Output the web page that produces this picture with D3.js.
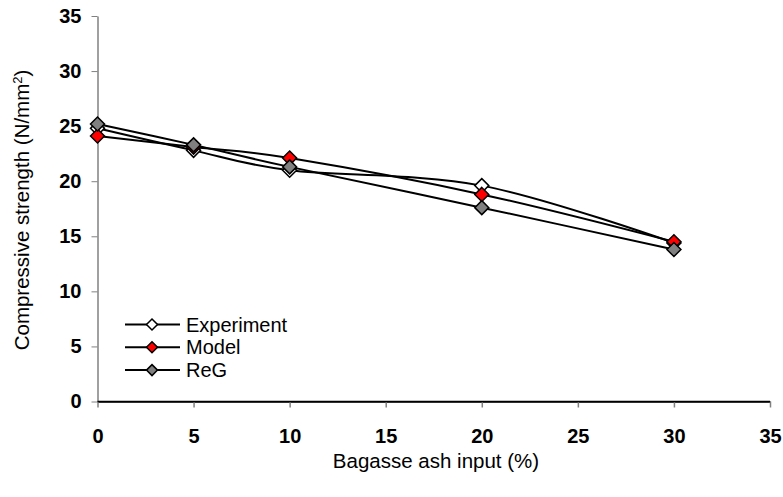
<!DOCTYPE html>
<html>
<head>
<meta charset="utf-8">
<script src="https://cdn.jsdelivr.net/npm/d3@7"></script>
<style>
  body { margin: 0; background: #fff; }
  svg text { font-family: "Liberation Sans", Arial, sans-serif; }
</style>
</head>
<body>
<div id="chart"></div>
<script>
// ash input (%)
const ashInput = [0, 5, 10, 20, 30];
const experiment = [24.8, 22.8, 21.0, 19.6, 14.4];
const model = [24.1, 23.1, 22.1, 18.8, 14.5];
const reg = [25.2, 23.3, 21.3, 17.6, 13.8];
const xTicks = [0, 5, 10, 15, 20, 25, 30, 35];
const yTicks = [0, 5, 10, 15, 20, 25, 30, 35];

const seriesList = [
  { name: 'Experiment', values: experiment, fill: '#ffffff' },
  { name: 'Model', values: model, fill: '#ff0000' },
  { name: 'ReG', values: reg, fill: '#808080' }
];

const W = 783, H = 497;
const m = { left: 97.5, right: W - 770, top: 16, bottom: H - 401.5 };

const svg = d3.select('#chart').append('svg')
  .attr('width', W)
  .attr('height', H);

const x = d3.scaleLinear().domain([0, 35]).range([m.left, W - m.right]);
const y = d3.scaleLinear().domain([0, 35]).range([H - m.bottom, m.top]);

// axes
const xAxis = svg.append('g')
  .attr('transform', `translate(0,${y(0)})`)
  .call(d3.axisBottom(x).tickValues(xTicks).tickSize(6).tickPadding(21).tickSizeOuter(0));
xAxis.select('.domain').attr('stroke', '#000').attr('stroke-width', 1.5);
xAxis.selectAll('.tick line').attr('stroke', '#808080').attr('stroke-width', 1.5);
xAxis.selectAll('.tick text')
  .attr('font-size', 20).attr('font-weight', 'bold').attr('fill', '#000')
  .attr('font-family', '"Liberation Sans", Arial, sans-serif');

const yAxis = svg.append('g')
  .attr('transform', `translate(${x(0)},0)`)
  .call(d3.axisLeft(y).tickValues(yTicks).tickSize(6).tickPadding(10).tickSizeOuter(0));
yAxis.select('.domain').attr('stroke', '#808080').attr('stroke-width', 1.5);
yAxis.selectAll('.tick line').attr('stroke', '#808080').attr('stroke-width', 1);
yAxis.selectAll('.tick text')
  .attr('font-size', 20).attr('font-weight', 'bold').attr('fill', '#000')
  .attr('font-family', '"Liberation Sans", Arial, sans-serif');

// redraw x-axis line on top of y-axis at origin
svg.append('line')
  .attr('x1', x(0)).attr('x2', x(35))
  .attr('y1', y(0)).attr('y2', y(0))
  .attr('stroke', '#000').attr('stroke-width', 1.5);

// axis titles
svg.append('text')
  .attr('x', 436)
  .attr('y', 468)
  .attr('text-anchor', 'middle')
  .attr('font-size', 20.5)
  .text('Bagasse ash input (%)');

const yTitle = svg.append('text')
  .attr('transform', `translate(29,210) rotate(-90)`)
  .attr('text-anchor', 'middle')
  .attr('font-size', 20.5);
yTitle.append('tspan').text('Compressive strength (N/mm');
yTitle.append('tspan').attr('dy', -7).attr('font-size', 13).text('2');
yTitle.append('tspan').attr('dy', 7).text(')');

// lines
const line = d3.line()
  .x((d, i) => x(ashInput[i]))
  .y(d => y(d))
  .curve(d3.curveCatmullRom.alpha(0));

const diamond = (s) => `M0,${-s}L${s},0L0,${s}L${-s},0Z`;

seriesList.forEach(s => {
  svg.append('path')
    .attr('d', line(s.values))
    .attr('fill', 'none')
    .attr('stroke', '#000')
    .attr('stroke-width', 2);
});

seriesList.forEach(s => {
  svg.append('g').selectAll('path')
    .data(s.values)
    .enter().append('path')
    .attr('d', diamond(7))
    .attr('transform', (d, i) => `translate(${x(ashInput[i])},${y(d)})`)
    .attr('fill', s.fill)
    .attr('stroke', '#000')
    .attr('stroke-width', 1.5);
});

// legend
const legend = svg.append('g');
seriesList.forEach((s, i) => {
  const ly = 324.5 + i * 22.8;
  legend.append('line')
    .attr('x1', 125).attr('x2', 180)
    .attr('y1', ly).attr('y2', ly)
    .attr('stroke', '#000').attr('stroke-width', 2);
  legend.append('path')
    .attr('d', diamond(5.5))
    .attr('transform', `translate(152,${ly})`)
    .attr('fill', s.fill)
    .attr('stroke', '#000')
    .attr('stroke-width', 1.5);
  legend.append('text')
    .attr('x', 186)
    .attr('y', ly + 7)
    .attr('font-size', 20)
    .text(s.name);
});
</script>
</body>
</html>
